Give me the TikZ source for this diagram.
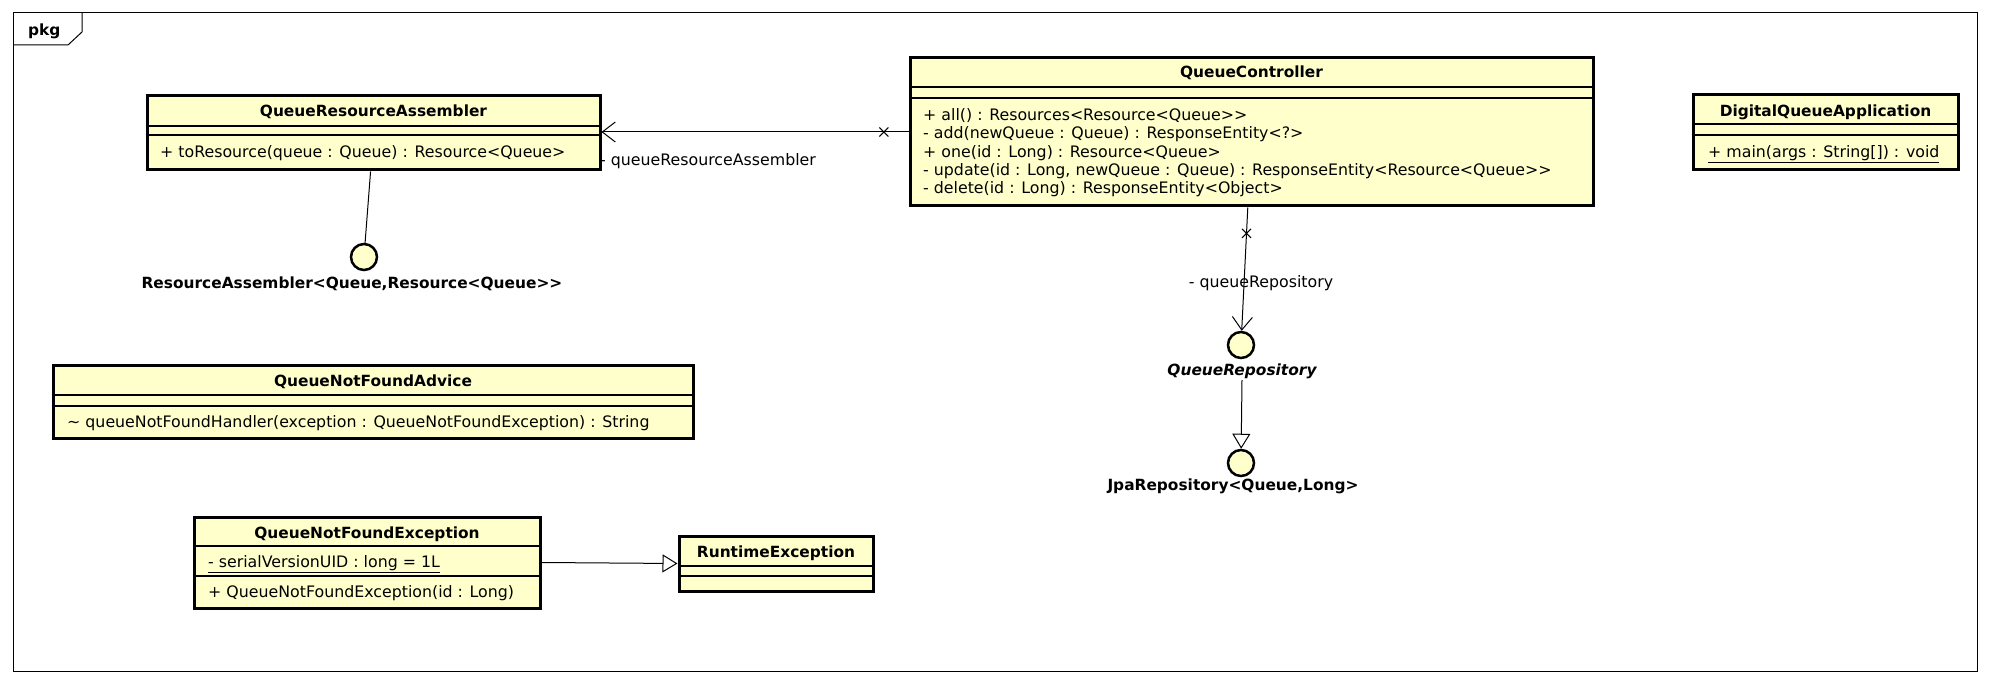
\documentclass[tikz,border=0pt]{standalone}
\usepackage{fontspec}
\setmainfont{DejaVu Sans}[Ligatures=TeXOff]
\usetikzlibrary{arrows.meta,shapes.misc}
\definecolor{umlfill}{HTML}{FFFFCC}
\tikzset{
  frame/.style={draw, line width=1pt},
  classbox/.style={draw, line width=3pt, fill=umlfill, inner sep=0pt},
  sep/.style={line width=1.2pt},
  iface/.style={circle, draw, line width=2.5pt, fill=umlfill, minimum size=26pt, inner sep=0pt},
  title/.style={font=\fontsize{15.4}{19}\selectfont\bfseries, inner sep=0pt, anchor=base},
  member/.style={font=\fontsize{15.8}{19}\selectfont, inner sep=0pt, anchor=base west},
  assoc/.style={line width=1pt, -{Straight Barb[length=13pt, width=20pt]}},
  gen/.style={line width=1pt, -{Triangle[open, length=15pt, width=18pt, fill=white]}},
  xmark/.style={cross out, draw, line width=1pt, minimum size=8pt, inner sep=0pt},
}
\begin{document}
\begin{tikzpicture}[x=1pt,y=-1pt]
\useasboundingbox (0,0) rectangle (1990,684);

% package frame
\draw[frame] (13,13) rectangle (1977,671);
\draw[frame] (13,45) -- (68,45) -- (82,32) -- (82,13);
\node[title, anchor=base west] (pkg) at (28,36) {pkg};

% classes
\node[classbox, minimum width=453pt, minimum height=74pt] (qra) at (373.5,133) {};
\node[title] at (qra |- 0,116.5) {QueueResourceAssembler};
\draw[sep] (qra.west |- 0,126) -- (qra.east |- 0,126);
\draw[sep] (qra.west |- 0,135) -- (qra.east |- 0,135);
\node[member] at (160,157.5) {+ toResource(queue : Queue) : Resource<Queue>};

\node[classbox, minimum width=683pt, minimum height=148pt] (qc) at (1251.5,132) {};
\node[title] at (qc |- 0,78) {QueueController};
\draw[sep] (qc.west |- 0,87) -- (qc.east |- 0,87);
\draw[sep] (qc.west |- 0,98) -- (qc.east |- 0,98);
\foreach \m [count=\i from 0] in {{+ all() : Resources<Resource<Queue>>},
    {- add(newQueue : Queue) : ResponseEntity<?>},
    {+ one(id : Long) : Resource<Queue>},
    {- update(id : Long, newQueue : Queue) : ResponseEntity<Resource<Queue>>},
    {- delete(id : Long) : ResponseEntity<Object>}}
  \node[member] at (923,120.5+18.3*\i) {\m};

\node[classbox, minimum width=265pt, minimum height=75pt] (dqa) at (1825.5,132.5) {};
\node[title] at (dqa |- 0,117) {DigitalQueueApplication};
\draw[sep] (dqa.west |- 0,124) -- (dqa.east |- 0,124);
\draw[sep] (dqa.west |- 0,135) -- (dqa.east |- 0,135);
\node[member] at (1708,157.5) {\underline{+ main(args : String[]) : void}};

\node[classbox, minimum width=640pt, minimum height=73pt] (qnfa) at (373,402.5) {};
\node[title] at (qnfa |- 0,387) {QueueNotFoundAdvice};
\draw[sep] (qnfa.west |- 0,395) -- (qnfa.east |- 0,395);
\draw[sep] (qnfa.west |- 0,406) -- (qnfa.east |- 0,406);
\node[member] at (67,428) {\textasciitilde{} queueNotFoundHandler(exception : QueueNotFoundException) : String};

\node[classbox, minimum width=346pt, minimum height=91pt] (qnfe) at (367,562.5) {};
\node[title] at (qnfe |- 0,538) {QueueNotFoundException};
\draw[sep] (qnfe.west |- 0,546) -- (qnfe.east |- 0,546);
\draw[sep] (qnfe.west |- 0,576) -- (qnfe.east |- 0,576);
\node[member] at (208,567.5) {\underline{- serialVersionUID : long = 1L}};
\node[member] at (208,597) {+ QueueNotFoundException(id : Long)};

\node[classbox, minimum width=194pt, minimum height=55pt] (rte) at (776,563.5) {};
\node[title] at (rte |- 0,557) {RuntimeException};
\draw[sep] (rte.west |- 0,566) -- (rte.east |- 0,566);
\draw[sep] (rte.west |- 0,576) -- (rte.east |- 0,576);

% interfaces
\node[iface] (ra) at (364,257) {};
\node[title] (ral) at (352,288.5) {ResourceAssembler<Queue,Resource<Queue>>};
\node[iface] (qrepo) at (1241,345) {};
\node[title, font=\fontsize{15.4}{19}\selectfont\bfseries\itshape, inner sep=1pt] (qrl) at (1242,375.5) {QueueRepository};
\node[iface] (jpa) at (1241,463) {};
\node[title] (jpal) at (1233,490.5) {JpaRepository<Queue,Long>};

% relations
\draw[line width=1pt] (qra) -- (ra);
\draw[assoc] (qc.west) -- (qra.east |- qc.west) node[xmark, pos=0.08] (xa) {};
\node[member] (qral) at (600,165.5) {- queueResourceAssembler};
\draw[assoc] (qc) -- (qrepo) node[xmark, pos=0.21] (xb) {};
\node[title, font=\fontsize{15.8}{19}\selectfont] (qrepol) at (1261,287.5) {- queueRepository};
\draw[gen] (qrl.south) -- (jpa);
\draw[gen] (qnfe.east) -- (rte.west);
\end{tikzpicture}
\end{document}
